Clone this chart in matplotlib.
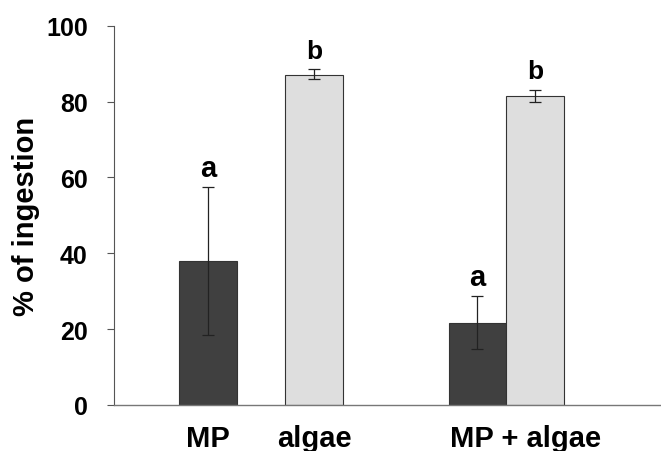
import numpy as np
import matplotlib
matplotlib.use("Agg")
import matplotlib.pyplot as plt

plt.rcParams['font.family'] = ['Liberation Sans', 'DejaVu Sans']
plt.rcParams['font.weight'] = 'bold'

# datos
group_labels = ['MP', 'algae', 'MP + algae']
means = [37.9, 87.1, 21.6, 81.5]
err_low = [19.5, 1.2, 6.9, 1.6]
err_high = [19.5, 1.4, 7.1, 1.6]
letters = ['a', 'b', 'a', 'b']
letter_sizes = [21, 19, 21, 19]
bar_colors = ['#404040', '#dedede', '#404040', '#dedede']

x = np.array([0, 1.84, 4.68, 5.68])
label_x = [0, 1.84, 5.51]

fig = plt.figure(figsize=(6.61, 4.52), dpi=100)
ax = fig.add_axes([0.1725, 0.1018, 0.8275, 0.8392])

ax.bar(x, means, width=1.0, color=bar_colors, edgecolor='#333333', linewidth=0.8,
       yerr=[err_low, err_high], error_kw=dict(ecolor='#222222', elinewidth=0.9, capsize=4, capthick=0.9))

# letras de significancia sobre las barras
for xi, m, eh, l, fs in zip(x, means, err_high, letters, letter_sizes):
    ax.text(xi, m + eh + 3, l, ha='center', va='baseline', fontsize=fs, fontweight='bold')

ax.set_xlim(-1.638, 7.87)
ax.set_ylim(0, 100)
ax.set_yticks([0, 20, 40, 60, 80, 100])
ax.set_xticks(label_x)
ax.set_xticklabels(group_labels, fontsize=21, fontweight='bold')
ax.tick_params(axis='x', length=0, pad=14)
ax.tick_params(axis='y', labelsize=18, length=5, width=0.8, color='#555555', pad=14)
for t in ax.get_yticklabels():
    t.set_fontweight('bold')
ax.set_ylabel('% of ingestion', fontsize=21, fontweight='bold', labelpad=4)

ax.spines['top'].set_visible(False)
ax.spines['right'].set_visible(False)
ax.spines['left'].set_color('#555555')
ax.spines['bottom'].set_color('#777777')
ax.spines['left'].set_linewidth(0.8)
ax.spines['bottom'].set_linewidth(1.0)

fig.savefig('out.png', dpi=100)
